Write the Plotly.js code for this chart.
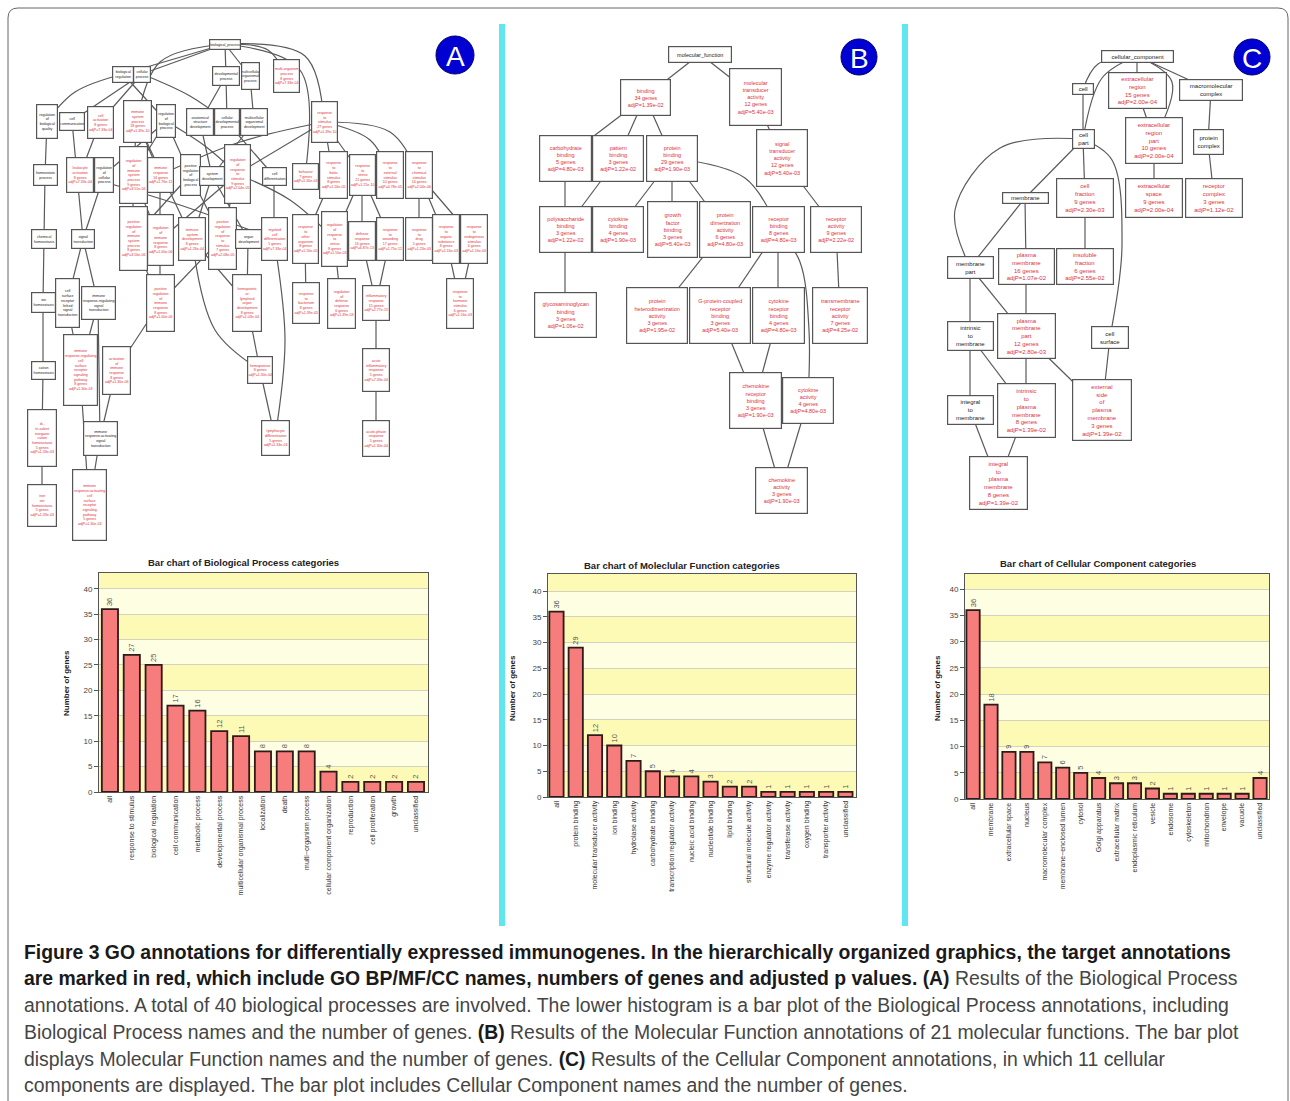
<!DOCTYPE html>
<html><head><meta charset="utf-8">
<script src="https://cdn.plot.ly/plotly-3.0.1.min.js"></script>
<style>html,body{margin:0;padding:0;background:#fff}#chart{width:1290px;height:1101px}</style>
</head><body><div id="chart"></div>
<script>
// ---------------- bar chart data ----------------
const bpCats = ["all","response to stimulus","biological regulation","cell communication","metabolic process","developmental process","multicellular organismal process","localization","death","multi\u2212organism process","cellular component organization","reproduction","cell proliferation","growth","unclassified"];
const bpVals = [36,27,25,17,16,12,11,8,8,8,4,2,2,2,2];

const mfCats = ["all","protein binding","molecular transducer activity","ion binding","hydrolase activity","carbohydrate binding","transcription regulator activity","nucleic acid binding","nucleotide binding","lipid binding","structural molecule activity","enzyme regulator activity","transferase activity","oxygen binding","transporter activity","unclassified"];
const mfVals = [36,29,12,10,7,5,4,4,3,2,2,1,1,1,1,1];

const ccCats = ["all","membrane","extracellular space","nucleus","macromolecular complex","membrane\u2212enclosed lumen","cytosol","Golgi apparatus","extracellular matrix","endoplasmic reticulum","vesicle","endosome","cytoskeleton","mitochondrion","envelope","vacuole","unclassified"];
const ccVals = [36,18,9,9,7,6,5,4,3,3,2,1,1,1,1,1,4];

const yTicks = [0,5,10,15,20,25,30,35,40];

const barTitles = ["Bar chart of Biological Process categories","Bar chart of Moleclular Function categories","Bar chart of Cellular Component categories"];

// ---------------- GO graph nodes: [label, x, y, w, h, target] ----------------
const aNodes = [
["biological_process",225,44,30,9,0],
["biological|regulation",123,74,20,15,0],
["cellular|process",142,74,16,15,0],
["developmental|process",226,76,26,18,0],
["multicellular|organismal|process",250,76,17,26,0],
["multi-organism|process|8 genes|adjP=7.33e-04",286,76,25,32,1],
["regulation|of|biological|quality",47,121,20,33,0],
["cell|communication",72,121,24,17,0],
["cell|activation|8 genes|adjP=7.33e-04",100,122,25,31,1],
["immune|system|process|18 genes|adjP=1.39e-10",137,121,27,41,1],
["regulation|of|biological|process",166,121,18,32,0],
["anatomical|structure|development",200,122,26,26,0],
["cellular|developmental|process",227,122,24,26,0],
["multicellular|organismal|development",254,122,26,26,0],
["response|to|stimulus|27 genes|adjP=1.39e-10",324,122,25,40,1],
["homeostatic|process",45,175,23,20,0],
["leukocyte|activation|8 genes|adjP=7.33e-04",80,175,26,34,1],
["regulation|of|cellular|process",104,175,18,34,0],
["regulation|of|immune|system|process|9 genes|adjP=3.51e-06",133,175,27,56,1],
["immune|response|16 genes|adjP=1.76e-11",160,175,25,34,1],
["positive|regulation|of|biological|process",190,175,19,40,0],
["system|development",212,176,24,18,0],
["regulation|of|response|to|stimulus|9 genes|adjP=2.04e-05",237,174,25,58,1],
["cell|differentiation",274,176,23,17,0],
["behavior|7 genes|adjP=1.30e-03",305,176,25,25,1],
["response|to|biotic|stimulus|8 genes|adjP=1.16e-05",333,175,27,46,1],
["response|to|stress|21 genes|adjP=1.21e-10",362,175,25,40,1],
["response|to|external|stimulus|10 genes|adjP=4.78e-05",390,175,26,46,1],
["response|to|chemical|stimulus|14 genes|adjP=2.04e-06",419,175,26,46,1],
["chemical|homeostasis",44,239,24,18,0],
["signal|transduction",83,239,22,18,0],
["positive|regulation|of|immune|system|process|8 genes|adjP=3.56e-06",133,238,27,63,1],
["regulation|of|immune|response|8 genes|adjP=1.00e-06",160,240,25,50,1],
["immune|system|development|8 genes|adjP=1.26e-04",192,239,26,42,1],
["positive|regulation|of|response|to|stimulus|7 genes|adjP=2.08e-05",222,238,27,61,1],
["organ|development",248,239,25,18,0],
["myeloid|cell|differentiation|5 genes|adjP=7.33e-04",274,239,25,42,1],
["response|to|other|organism|8 genes|adjP=1.16e-05",305,239,25,48,1],
["regulation|of|response|to|stress|8 genes|adjP=1.50e-03",334,239,25,54,1],
["defense|response|16 genes|adjP=6.87e-13",362,241,26,38,1],
["response|to|wounding|17 genes|adjP=1.75e-12",390,239,26,42,1],
["response|to|drug|5 genes|adjP=1.23e-03",419,239,26,42,1],
["response|to|organic|substance|8 genes|adjP=1.16e-03",446,239,26,48,1],
["response|to|endogenous|stimulus|6 genes|adjP=1.16e-03",474,239,26,48,1],
["ion|homeostasis",43,302,23,19,0],
["cell|surface|receptor|linked|signal|transduction",67,303,23,48,0],
["immune|response-regulating|signal|transduction",98,303,33,32,0],
["positive|regulation|of|immune|response|8 genes|adjP=1.00e-06",160,303,27,56,1],
["hemopoietic|or|lymphoid|organ|development|8 genes|adjP=1.03e-04",247,303,28,56,1],
["response|to|bacterium|8 genes|adjP=1.39e-05",306,303,26,40,1],
["regulation|of|defense|response|6 genes|adjP=1.39e-03",341,303,27,49,1],
["inflammatory|response|15 genes|adjP=2.77e-15",376,303,26,34,1],
["response|to|hormone|stimulus|6 genes|adjP=1.16e-03",460,303,26,49,1],
["cation|homeostasis",43,370,23,17,0],
["immune|response-regulating|cell|surface|receptor|signaling|pathway|8 genes|adjP=1.30e-03",80,370,33,70,1],
["activation|of|immune|response|8 genes|adjP=1.30e-06",116,370,27,47,1],
["hemopoiesis|8 genes|adjP=1.30e-04",260,370,24,26,1],
["acute|inflammatory|response|5 genes|adjP=7.33e-04",376,370,26,42,1],
["di-,|tri-valent|inorganic|cation|homeostasis|5 genes|adjP=1.33e-03",42,438,28,56,1],
["immune|response-activating|signal|transduction",100,438,33,33,0],
["lymphocyte|differentiation|5 genes|adjP=1.33e-04",275,438,27,34,1],
["acute-phase|response|5 genes|adjP=1.30e-04",376,438,26,35,1],
["iron|ion|homeostasis|5 genes|adjP=1.33e-03",42,505,28,41,1],
["immune|response-activating|cell|surface|receptor|signaling|pathway|5 genes|adjP=1.30e-03",89,505,33,70,1]
];
const aEdges = [[1,2],[1,3],[1,4],[1,5],[1,6,[[268,50]]],[1,15,[[305,56]]],[2,7,[[75,92]]],[3,8],[3,9],[1,10,[[160,62]]],[2,11],[4,12],[4,13],[5,14],[3,13,[[190,96]]],[7,16],[8,31],[9,17],[11,18],[11,19],[10,19],[10,20],[15,20,[[240,142]]],[11,21],[12,22],[14,22],[11,23,[[205,146]]],[15,23],[13,24],[1,25,[[300,70]]],[15,26],[15,27],[15,28,[[370,140]]],[15,29,[[390,132]]],[16,30],[18,31],[19,32],[21,32],[19,33],[20,33],[23,33],[10,34],[22,34],[23,35],[21,35],[22,36],[24,37],[17,37,[[180,205]]],[26,38],[27,39],[23,39,[[290,200]]],[27,40],[27,41],[29,42],[29,43],[29,44],[30,45],[31,46],[31,47],[32,48],[33,48],[35,48],[36,49],[34,49],[38,50],[39,51],[40,52],[41,52],[44,53],[43,53],[45,54],[46,55],[47,55],[48,56],[49,57],[34,57,[[215,330]]],[52,58],[54,59],[47,60],[56,60],[37,61,[[285,340]]],[57,61],[58,62],[59,63],[60,64],[55,64]];

const bNodes = [
["molecular_function",700,54,62,15,0],
["binding|34 genes|adjP=1.39e-02",645,97,49,35,1],
["molecular|transducer|activity|12 genes|adjP=5.40e-03",755,97,51,56,1],
["carbohydrate|binding|5 genes|adjP=4.80e-03",565,158,51,45,1],
["pattern|binding|3 genes|adjP=1.22e-02",618,158,50,45,1],
["protein|binding|29 genes|adjP=1.90e-03",672,158,50,45,1],
["signal|transducer|activity|12 genes|adjP=5.40e-03",782,158,50,56,1],
["polysaccharide|binding|3 genes|adjP=1.22e-02",565,229,51,45,1],
["cytokine|binding|4 genes|adjP=1.90e-03",618,229,50,45,1],
["growth|factor|binding|3 genes|adjP=5.40e-03",672,229,49,55,1],
["protein|dimerization|activity|6 genes|adjP=4.80e-03",725,229,50,55,1],
["receptor|binding|8 genes|adjP=4.80e-03",778,229,51,45,1],
["receptor|activity|9 genes|adjP=2.22e-02",836,229,50,45,1],
["glycosaminoglycan|binding|3 genes|adjP=1.06e-02",565,315,61,44,1],
["protein|heterodimerization|activity|3 genes|adjP=1.95e-02",657,315,60,55,1],
["G-protein-coupled|receptor|binding|3 genes|adjP=5.40e-03",720,315,60,55,1],
["cytokine|receptor|binding|4 genes|adjP=4.80e-03",778,315,51,55,1],
["transmembrane|receptor|activity|7 genes|adjP=4.25e-02",840,315,54,55,1],
["chemokine|receptor|binding|3 genes|adjP=1.90e-03",755,400,51,55,1],
["cytokine|activity|4 genes|adjP=4.80e-03",808,400,50,45,1],
["chemokine|activity|3 genes|adjP=1.90e-03",781,490,51,45,1]
];
const bEdges = [[1,2],[1,3],[2,4],[2,5],[2,6],[3,7],[4,8],[5,8],[6,9],[6,10],[6,11],[6,12,[[745,178]]],[7,13],[8,14],[11,15],[12,16],[12,17],[12,20,[[800,262],[809,330]]],[13,18],[16,19],[17,19],[19,21],[20,21]];

const cNodes = [
["cellular_component",1137,56,71,11,0],
["cell",1083,89,20,10,0],
["extracellular|region|15 genes|adjP=2.00e-04",1137,90,57,35,1],
["macromolecular|complex",1211,90,62,20,0],
["cell|part",1083,139,21,18,0],
["extracellular|region|part|10 genes|adjP=2.00e-04",1154,140,56,45,1],
["protein|complex",1208,142,29,24,0],
["membrane",1025,198,45,10,0],
["cell|fraction|9 genes|adjP=2.30e-03",1085,198,56,38,1],
["extracellular|space|9 genes|adjP=2.00e-04",1154,198,56,38,1],
["receptor|complex|3 genes|adjP=1.12e-02",1214,198,56,38,1],
["membrane|part",970,267,45,21,0],
["plasma|membrane|16 genes|adjP=1.07e-02",1026,266,55,35,1],
["insoluble|fraction|6 genes|adjP=2.55e-02",1085,266,56,35,1],
["intrinsic|to|membrane",970,336,45,28,0],
["plasma|membrane|part|12 genes|adjP=2.80e-03",1026,336,57,44,1],
["cell|surface",1110,337,36,21,0],
["integral|to|membrane",970,410,45,28,0],
["intrinsic|to|plasma|membrane|8 genes|adjP=1.39e-02",1026,410,57,53,1],
["external|side|of|plasma|membrane|3 genes|adjP=1.39e-02",1102,410,58,60,1],
["integral|to|plasma|membrane|8 genes|adjP=1.39e-02",998,483,57,52,1]
];
const cEdges = [[1,2,[[1098,64]]],[1,3],[1,4],[1,5,[[1102,78]]],[1,6,[[1172,82]]],[2,5],[3,6],[4,7],[6,10],[7,11],[5,8],[5,9],[5,12,[[1000,148],[955,210]]],[5,17,[[1112,160],[1122,245]]],[8,12],[8,13],[9,14],[12,15],[12,16],[13,16],[15,18],[15,19],[16,19],[16,20],[17,20],[18,21],[19,21]];

const captionLines = [
"<b>Figure 3 GO annotations for differentially expressed immunogenes. In the hierarchically organized graphics, the target annotations</b>",
"<b>are marked in red, which include GO BP/MF/CC names, numbers of genes and adjusted p values. (A)</b> Results of the Biological Process",
"annotations. A total of 40 biological processes are involved. The lower histogram is a bar plot of the Biological Process annotations, including",
"Biological Process names and the number of genes. <b>(B)</b> Results of the Molecular Function annotations of 21 molecular functions. The bar plot",
"displays Molecular Function names and the number of genes. <b>(C)</b> Results of the Cellular Component annotations, in which 11 cellular",
"components are displayed. The bar plot includes Cellular Component names and the number of genes."
];

// ---------------- build ----------------
const W = 1290, H = 1101;
const px = x => x / W, py = y => 1 - y / H;
const FONT = "Liberation Sans, Arial, sans-serif";

const traces = [], annotations = [], shapes = [];
const layout = {
  width: W, height: H, margin: {l:0, r:0, t:0, b:0},
  paper_bgcolor: "#ffffff", plot_bgcolor: "rgba(0,0,0,0)",
  showlegend: false, hovermode: false
};

const barSpecs = [
  {cats: bpCats, vals: bpVals, box: [99,428,573,792], ytop: 43.1, lo: -0.5, hi: 14.55, tXY: [243,562], ytXY: [67,683]},
  {cats: mfCats, vals: mfVals, box: [548,856,574,797], ytop: 43.3, lo: -0.44, hi: 15.55, tXY: [682,565], ytXY: [512,688]},
  {cats: ccCats, vals: ccVals, box: [965,1269,574,799], ytop: 42.9, lo: -0.45, hi: 16.5, tXY: [1098,563], ytXY: [937,688]}
];

barSpecs.forEach((s, i) => {
  const xa = i === 0 ? "x" : "x" + (i + 1);
  const ya = i === 0 ? "y" : "y" + (i + 1);
  const xk = i === 0 ? "xaxis" : "xaxis" + (i + 1);
  const yk = i === 0 ? "yaxis" : "yaxis" + (i + 1);
  traces.push({
    type: "bar", x: s.cats, y: s.vals, xaxis: xa, yaxis: ya, width: 0.74,
    marker: {color: "#f77c7c", line: {color: "#2e1a1a", width: 1.8}},
    text: s.vals.map(String), textposition: "outside", textangle: -90,
    textfont: {family: FONT, size: 7.5, color: "#555"}, cliponaxis: false,
    constraintext: "none", hoverinfo: "skip"
  });
  layout[xk] = {
    domain: [px(s.box[0]), px(s.box[1])], range: [s.lo, s.hi], anchor: ya,
    tickangle: -90, tickfont: {family: FONT, size: 7, color: "#333"},
    showline: true, mirror: true, linecolor: "#555", linewidth: 1,
    ticks: "", showgrid: false, zeroline: false, fixedrange: true, automargin: false
  };
  layout[yk] = {
    domain: [py(s.box[3]), py(s.box[2])], range: [0, s.ytop], anchor: xa,
    tickvals: yTicks, ticks: "outside", ticklen: 4, tickcolor: "#555",
    tickfont: {family: FONT, size: 8, color: "#444"},
    showline: true, mirror: true, linecolor: "#555", linewidth: 1,
    showgrid: true, gridcolor: "#d3d3c2", gridwidth: 1, zeroline: false,
    fixedrange: true, automargin: false
  };
  // background bands
  shapes.push({type: "rect", xref: xa + " domain", yref: ya, x0: 0, x1: 1, y0: 0, y1: s.ytop,
    fillcolor: "#fefee3", line: {width: 0}, layer: "below"});
  for (let k = 0; k < s.ytop; k += 10) {
    shapes.push({type: "rect", xref: xa + " domain", yref: ya, x0: 0, x1: 1, y0: k, y1: Math.min(k + 5, s.ytop),
      fillcolor: "#fcfab5", line: {width: 0}, layer: "below"});
  }
  annotations.push({xref: "paper", yref: "paper", x: px(s.tXY[0]), y: py(s.tXY[1]), xanchor: "center", yanchor: "middle",
    text: "<b>" + barTitles[i] + "</b>", showarrow: false, font: {family: FONT, size: 9.5, color: "#222"}});
  annotations.push({xref: "paper", yref: "paper", x: px(s.ytXY[0]), y: py(s.ytXY[1]), xanchor: "center", yanchor: "middle",
    text: "<b>Number of genes</b>", textangle: -90, showarrow: false, font: {family: FONT, size: 8, color: "#222"}});
});

// overlay axis in page pixel units for the GO graphs
layout.xaxis4 = {domain: [0,1], range: [0, W], visible: false, fixedrange: true, anchor: "y4"};
layout.yaxis4 = {domain: [0,1], range: [H, 0], visible: false, fixedrange: true, anchor: "x4"};

function edgeTrace(nodes, edges) {
  const xs = [], ys = [];
  edges.forEach(e => {
    const a = nodes[e[0] - 1], b = nodes[e[1] - 1];
    xs.push(a[1]); ys.push(a[2]);
    (e[2] || []).forEach(p => { xs.push(p[0]); ys.push(p[1]); });
    xs.push(b[1]); ys.push(b[2]);
    xs.push(null); ys.push(null);
  });
  return {type: "scatter", mode: "lines", x: xs, y: ys, xaxis: "x4", yaxis: "y4",
    line: {color: "#5a5a5a", width: 1.2, shape: "spline", smoothing: 1}, hoverinfo: "skip", connectgaps: false};
}
function addNodes(nodes, fs) {
  nodes.forEach(n => {
    annotations.push({xref: "x4", yref: "y4", x: n[1], y: n[2], xanchor: "center", yanchor: "middle",
      width: n[3], height: n[4], text: n[0].split("|").join("<br>"), showarrow: false,
      font: {family: FONT, size: fs, color: n[5] ? "#e0303a" : "#222"},
      bordercolor: "#555", borderwidth: 1.2, borderpad: 0, bgcolor: "#ffffff", align: "center", valign: "middle"});
  });
}
traces.push(edgeTrace(aNodes, aEdges));
traces.push(edgeTrace(bNodes, bEdges));
traces.push(edgeTrace(cNodes, cEdges));
addNodes(aNodes, 3.6);
addNodes(bNodes, 5.5);
addNodes(cNodes, 6);

// panel letters
[["A",455,55,19],["B",859,57,18],["C",1252,57,18]].forEach(c => {
  shapes.push({type: "circle", xref: "x4", yref: "y4", x0: c[1]-c[3], x1: c[1]+c[3], y0: c[2]-c[3], y1: c[2]+c[3],
    fillcolor: "#0000d2", line: {color: "#00006a", width: 1}});
  annotations.push({xref: "x4", yref: "y4", x: c[1], y: c[2]+1, xanchor: "center", yanchor: "middle", text: c[0],
    showarrow: false, font: {family: FONT, size: 28, color: "#ffffff"}});
});

// separators and frame
shapes.push({type: "line", xref: "x4", yref: "y4", x0: 502, x1: 502, y0: 24, y1: 926, line: {color: "#5fe6ee", width: 6}});
shapes.push({type: "line", xref: "x4", yref: "y4", x0: 905, x1: 905, y0: 24, y1: 926, line: {color: "#5fe6ee", width: 6}});
shapes.push({type: "path", xref: "x4", yref: "y4", path: "M 8 1101 L 8 18 Q 8 8 18 8 L 1278 8 Q 1288 8 1288 18 L 1288 1101",
  line: {color: "#666", width: 1}});

// caption
const capY = [952, 978, 1005, 1032, 1059, 1085];
captionLines.forEach((t, i) => {
  const txt = t.replace(/<b>/g, '<span style="color:#1a1a1a"><b>').replace(/<\/b>/g, '</b></span>');
  annotations.push({xref: "paper", yref: "paper", x: px(22), y: py(capY[i]), xanchor: "left", yanchor: "middle",
    text: txt, showarrow: false, align: "left", font: {family: FONT, size: 19.4, color: "#454545"}});
});

layout.annotations = annotations;
layout.shapes = shapes;
Plotly.newPlot("chart", traces, layout, {staticPlot: true, displayModeBar: false});
</script>
</body></html>
